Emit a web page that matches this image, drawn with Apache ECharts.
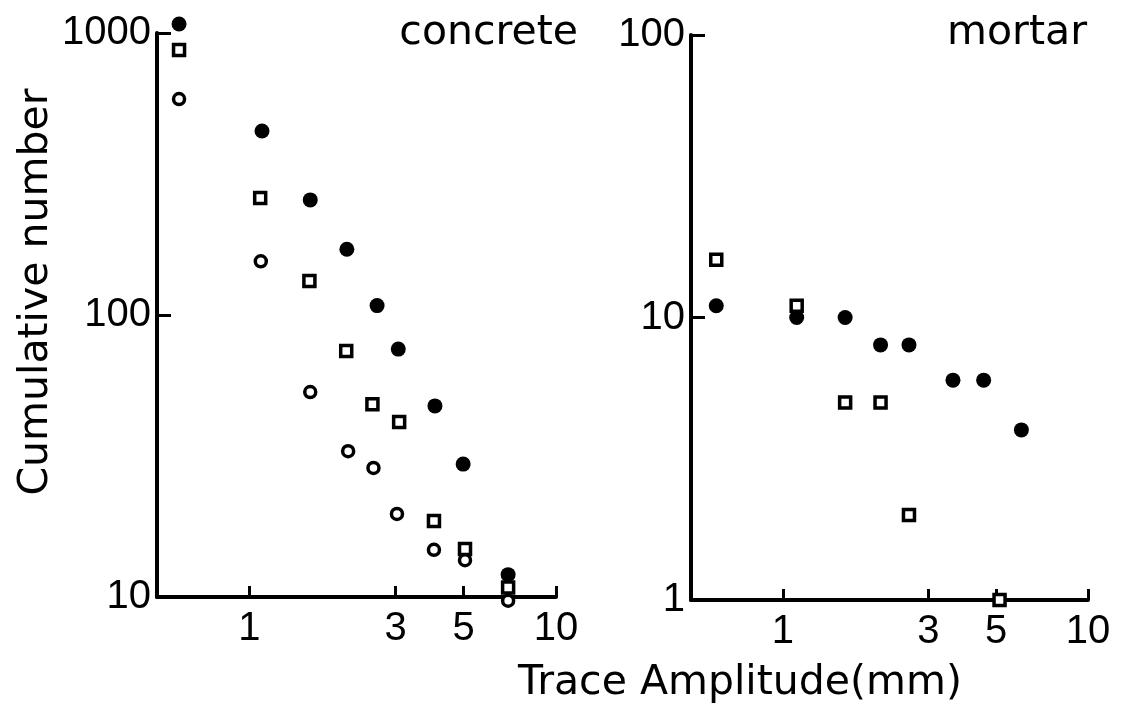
<!DOCTYPE html>
<html>
<head>
<meta charset="utf-8">
<script src="https://cdn.jsdelivr.net/npm/echarts@6/dist/echarts.min.js"></script>
<style>
html,body{margin:0;padding:0;background:#fff;}
#chart{width:1125px;height:705px;}
</style>
</head>
<body>
<div id="chart"></div>
<script>
// ---- data ----
const xTickValues = [1, 3, 5, 10];
const concreteFilledX = [0.59, 1.10, 1.58, 2.08, 2.61, 3.06, 4.03, 4.98, 6.98];
const concreteFilledY = [1076, 449, 256, 171, 108, 75.7, 47.6, 29.6, 12.0];
const concreteSquareX = [0.59, 1.085, 1.57, 2.07, 2.52, 3.08, 4.0, 5.05, 6.98];
const concreteSquareY = [871, 260, 132, 74.5, 48.3, 41.7, 18.6, 14.8, 10.8];
const concreteOpenX = [0.59, 1.09, 1.58, 2.10, 2.54, 3.03, 4.0, 5.05, 6.98];
const concreteOpenY = [583, 155, 53.3, 32.9, 28.7, 19.7, 14.7, 13.5, 9.7];
const mortarFilledX = [0.605, 1.11, 1.60, 2.09, 2.59, 3.61, 4.55, 6.05];
const mortarFilledY = [11, 10, 10, 8, 8, 6, 6, 4];
const mortarSquareX = [0.605, 1.11, 1.60, 2.09, 2.59, 5.13];
const mortarSquareY = [16, 11, 5, 5, 2, 1];

const zip = (xs, ys) => xs.map((x, i) => [x, ys[i]]);

const FONT = 'DejaVu Sans';
const NUMFONT = 'Liberation Sans';

function xAxisDef(gridIndex) {
  return {
    type: 'log', logBase: 10, gridIndex, min: 0.5, max: 10,
    axisLine: {show: true, lineStyle: {color: '#000', width: 4}},
    axisTick: {show: true, inside: true, length: 11, lineStyle: {color: '#000', width: 3}, customValues: xTickValues},
    axisLabel: {show: true, color: '#000', fontFamily: NUMFONT, fontSize: 40, margin: 12, customValues: xTickValues,
      formatter: v => String(v)},
    splitLine: {show: false}, minorTick: {show: false}
  };
}
function yAxisDef(gridIndex, min, max) {
  return {
    type: 'log', logBase: 10, gridIndex, min, max,
    axisLine: {show: true, lineStyle: {color: '#000', width: 4}},
    axisTick: {show: true, inside: true, length: 14, lineStyle: {color: '#000', width: 3}},
    axisLabel: {show: true, color: '#000', fontFamily: NUMFONT, fontSize: 40, margin: 6,
      formatter: v => String(Math.round(v))},
    splitLine: {show: false}, minorTick: {show: false}
  };
}
const filledStyle = {symbol: 'circle', symbolSize: 15, itemStyle: {color: '#000', borderWidth: 0, opacity: 1}};
const openStyle = {symbol: 'circle', symbolSize: 11, itemStyle: {color: '#fff', borderColor: '#000', borderWidth: 3.5, opacity: 1}};
const squareStyle = {symbol: 'rect', symbolSize: 11, itemStyle: {color: '#fff', borderColor: '#000', borderWidth: 3.5, opacity: 1}};

const chart = echarts.init(document.getElementById('chart'), null, {renderer: 'canvas'});
chart.setOption({
  backgroundColor: '#fff',
  animation: false,
  grid: [
    {left: 157, top: 33, width: 399, height: 564},
    {left: 691, top: 35, width: 397, height: 565}
  ],
  xAxis: [xAxisDef(0), xAxisDef(1)],
  yAxis: [yAxisDef(0, 10, 1000), yAxisDef(1, 1, 100)],
  title: [
    {text: 'concrete', right: 542, top: 8, textStyle: {fontFamily: FONT, fontSize: 41, fontWeight: 'normal', color: '#000'}},
    {text: 'mortar', right: 33, top: 8, textStyle: {fontFamily: FONT, fontSize: 41, fontWeight: 'normal', color: '#000'}}
  ],
  graphic: [
    {type: 'text', x: 36, y: 292, rotation: Math.PI / 2, style: {text: 'Cumulative number', font: '41px "DejaVu Sans"', fill: '#000', textAlign: 'center', textVerticalAlign: 'middle'}},
    {type: 'text', x: 740, y: 683, style: {text: 'Trace Amplitude(mm)', font: '41px "DejaVu Sans"', fill: '#000', textAlign: 'center', textVerticalAlign: 'middle'}}
  ],
  series: [
    Object.assign({type: 'scatter', xAxisIndex: 0, yAxisIndex: 0, clip: false, data: zip(concreteFilledX, concreteFilledY)}, filledStyle),
    Object.assign({type: 'scatter', xAxisIndex: 0, yAxisIndex: 0, clip: false, data: zip(concreteSquareX, concreteSquareY)}, squareStyle),
    Object.assign({type: 'scatter', xAxisIndex: 0, yAxisIndex: 0, clip: false, data: zip(concreteOpenX, concreteOpenY)}, openStyle),
    Object.assign({type: 'scatter', xAxisIndex: 1, yAxisIndex: 1, clip: false, data: zip(mortarFilledX, mortarFilledY)}, filledStyle),
    Object.assign({type: 'scatter', xAxisIndex: 1, yAxisIndex: 1, clip: false, data: zip(mortarSquareX, mortarSquareY)}, squareStyle)
  ]
});
</script>
</body>
</html>
